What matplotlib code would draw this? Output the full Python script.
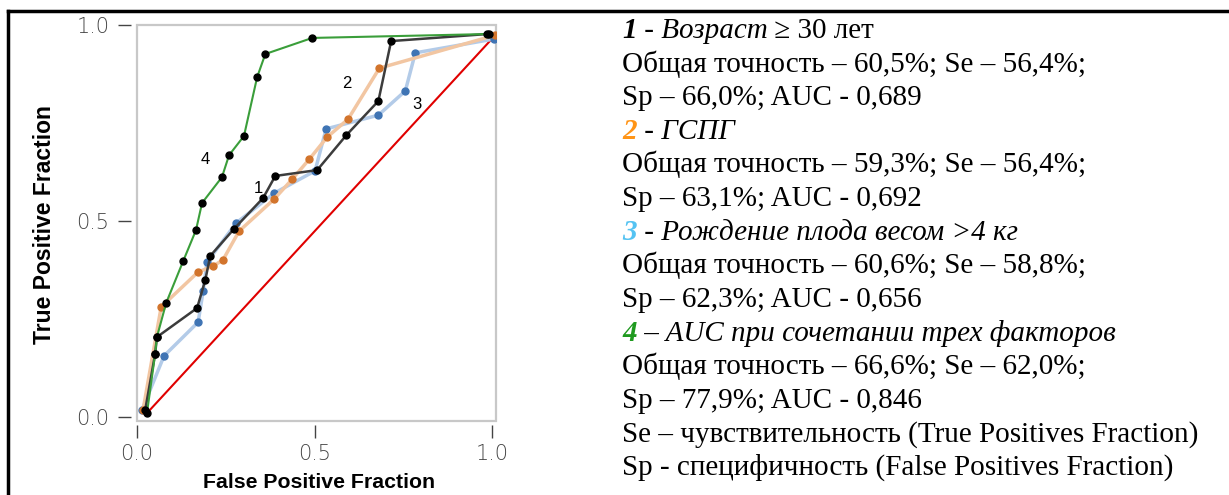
import matplotlib
matplotlib.use("Agg")
import matplotlib.pyplot as plt
from matplotlib.patches import Rectangle
from matplotlib.lines import Line2D

# ROC points (false positive fraction, true positive fraction)
fpf_age = [0.023, 0.051, 0.056, 0.169, 0.192, 0.206, 0.273, 0.355, 0.389, 0.507, 0.589, 0.679, 0.715, 0.986]
tpf_age = [0.018, 0.161, 0.204, 0.278, 0.349, 0.411, 0.480, 0.559, 0.615, 0.630, 0.719, 0.806, 0.959, 0.977]

fpf_gspg = [0.017, 0.068, 0.172, 0.214, 0.242, 0.287, 0.386, 0.437, 0.485, 0.535, 0.594, 0.682, 1.008]
tpf_gspg = [0.018, 0.281, 0.370, 0.385, 0.401, 0.474, 0.556, 0.607, 0.658, 0.714, 0.760, 0.890, 0.974]

fpf_weight = [0.014, 0.076, 0.172, 0.186, 0.197, 0.279, 0.386, 0.501, 0.532, 0.679, 0.755, 0.783, 1.003]
tpf_weight = [0.018, 0.156, 0.242, 0.321, 0.395, 0.495, 0.571, 0.628, 0.735, 0.770, 0.832, 0.929, 0.964]

fpf_comb = [0.028, 0.051, 0.056, 0.082, 0.130, 0.166, 0.183, 0.239, 0.259, 0.301, 0.338, 0.361, 0.493, 0.989]
tpf_comb = [0.010, 0.161, 0.204, 0.291, 0.398, 0.477, 0.546, 0.612, 0.668, 0.717, 0.867, 0.926, 0.967, 0.977]

chance_x = [0.028, 1.008]
chance_y = [0.010, 0.974]

curve_labels = ['1', '2', '3', '4']
label_x = [0.341, 0.589, 0.788, 0.192]
label_y = [0.584, 0.851, 0.796, 0.658]

ticks = [0.0, 0.5, 1.0]
tick_labels = ['0.0', '0.5', '1.0']

fig = plt.figure(figsize=(12.29, 4.95), dpi=100)

# overlay for the frame and the description text
tax = fig.add_axes([0, 0, 1, 1])
tax.set_xlim(0, 1)
tax.set_ylim(0, 1)
tax.axis('off')
tax.add_line(Line2D([8 / 1229, 1], [1 - 11 / 495, 1 - 11 / 495], color='black', lw=2.5))
tax.add_line(Line2D([8 / 1229, 8 / 1229], [0, 1 - 11 / 495], color='black', lw=2.5))

ax = fig.add_axes([137 / 1229, 1 - 421 / 495, 359 / 1229, 396 / 495])
ax.set_xlim(0, 1.01)
ax.set_ylim(-0.01, 1.0)

ax.plot(chance_x, chance_y, color='#e00000', lw=1.5, zorder=2)
ax.plot(fpf_weight, tpf_weight, color='#b3cbe8', lw=2.5, zorder=3)
ax.plot(fpf_weight, tpf_weight, 'o', color='#3f74b4', ms=5, zorder=3)
ax.plot(fpf_gspg, tpf_gspg, color='#f2c6a2', lw=2.5, zorder=3)
ax.plot(fpf_gspg, tpf_gspg, 'o', color='#d2742c', ms=5, zorder=3)
ax.plot(fpf_age, tpf_age, color='#3c3c3c', lw=1.8, zorder=4)
ax.plot(fpf_age, tpf_age, 'o', color='black', ms=5, zorder=5)
ax.plot(fpf_comb, tpf_comb, color='#3a9e3a', lw=1.5, zorder=4)
ax.plot(fpf_comb, tpf_comb, 'o', color='black', ms=5, zorder=5)

for s, lx, ly in zip(curve_labels, label_x, label_y):
    ax.text(lx, ly, s, ha='center', va='center', fontsize=12, family='Liberation Sans')

# light grey box, ticks sit outside it
for side in ['top', 'right', 'left', 'bottom']:
    ax.spines[side].set_color('none')
ax.spines['left'].set_position(('outward', 4.5))
ax.spines['bottom'].set_position(('outward', 3))
ax.add_patch(Rectangle((0, 0), 1, 1, transform=ax.transAxes, fill=False,
                       edgecolor='#c8c8c8', lw=1.6, clip_on=False, zorder=1))

ax.set_xticks(ticks)
ax.set_yticks(ticks)
ax.set_xticklabels(tick_labels)
ax.set_yticklabels(tick_labels)
ax.tick_params(direction='out', length=9.5, width=1, color='#444444',
               labelcolor='#444444', labelsize=15)
ax.tick_params(axis='y', pad=6)
ax.tick_params(axis='x', pad=4)
for lab in ax.get_xticklabels() + ax.get_yticklabels():
    lab.set_family(['Liberation Sans Narrow', 'DejaVu Sans'])
    lab.set_fontweight('light')

ax.set_xlabel('False Positive Fraction', fontsize=15.3, fontweight='bold', family='Liberation Sans')
ax.set_ylabel('True Positive Fraction', fontsize=16.5, fontweight='bold', family='Liberation Sans')
ax.xaxis.set_label_coords(0.507, -0.132)
ax.yaxis.set_label_coords(-0.226, 0.495)

# description block on the right
serif = 'Liberation Serif'
fs = 21
reg = dict(family=serif, fontsize=fs)
ita = dict(family=serif, fontsize=fs, style='italic')


def bold(c):
    return dict(family=serif, fontsize=fs, style='italic', weight='bold', color=c)


lines = [
    [('1', bold('black')), (' - Возраст', ita), (' ≥ 30 лет', reg)],
    [('Общая точность – 60,5%; Se – 56,4%;', reg)],
    [('Sp – 66,0%; AUC - 0,689', reg)],
    [('2', bold('#ff9416')), (' - ГСПГ', ita)],
    [('Общая точность – 59,3%; Se – 56,4%;', reg)],
    [('Sp – 63,1%; AUC - 0,692', reg)],
    [('3', bold('#55c3f2')), (' - Рождение плода весом >4 кг', ita)],
    [('Общая точность – 60,6%; Se – 58,8%;', reg)],
    [('Sp – 62,3%; AUC - 0,656', reg)],
    [('4', bold('#1f9a1f')), (' – AUC при сочетании трех факторов', ita)],
    [('Общая точность – 66,6%; Se – 62,0%;', reg)],
    [('Sp – 77,9%; AUC - 0,846', reg)],
    [('Se – чувствительность (True Positives Fraction)', reg)],
    [('Sp - специфичность (False Positives Fraction)', reg)],
]

x0 = 622 / 1229
base0 = 38
step = (475 - 38) / (len(lines) - 1)
for i, parts in enumerate(lines):
    yf = 1 - (base0 + i * step) / 495
    prev = None
    for s, kw in parts:
        if prev is None:
            prev = tax.text(x0, yf, s, ha='left', va='baseline', **kw)
        else:
            prev = tax.annotate(s, xy=(1, yf), xycoords=(prev, 'axes fraction'),
                                ha='left', va='baseline', **kw)

fig.savefig('out.png', dpi=100)
